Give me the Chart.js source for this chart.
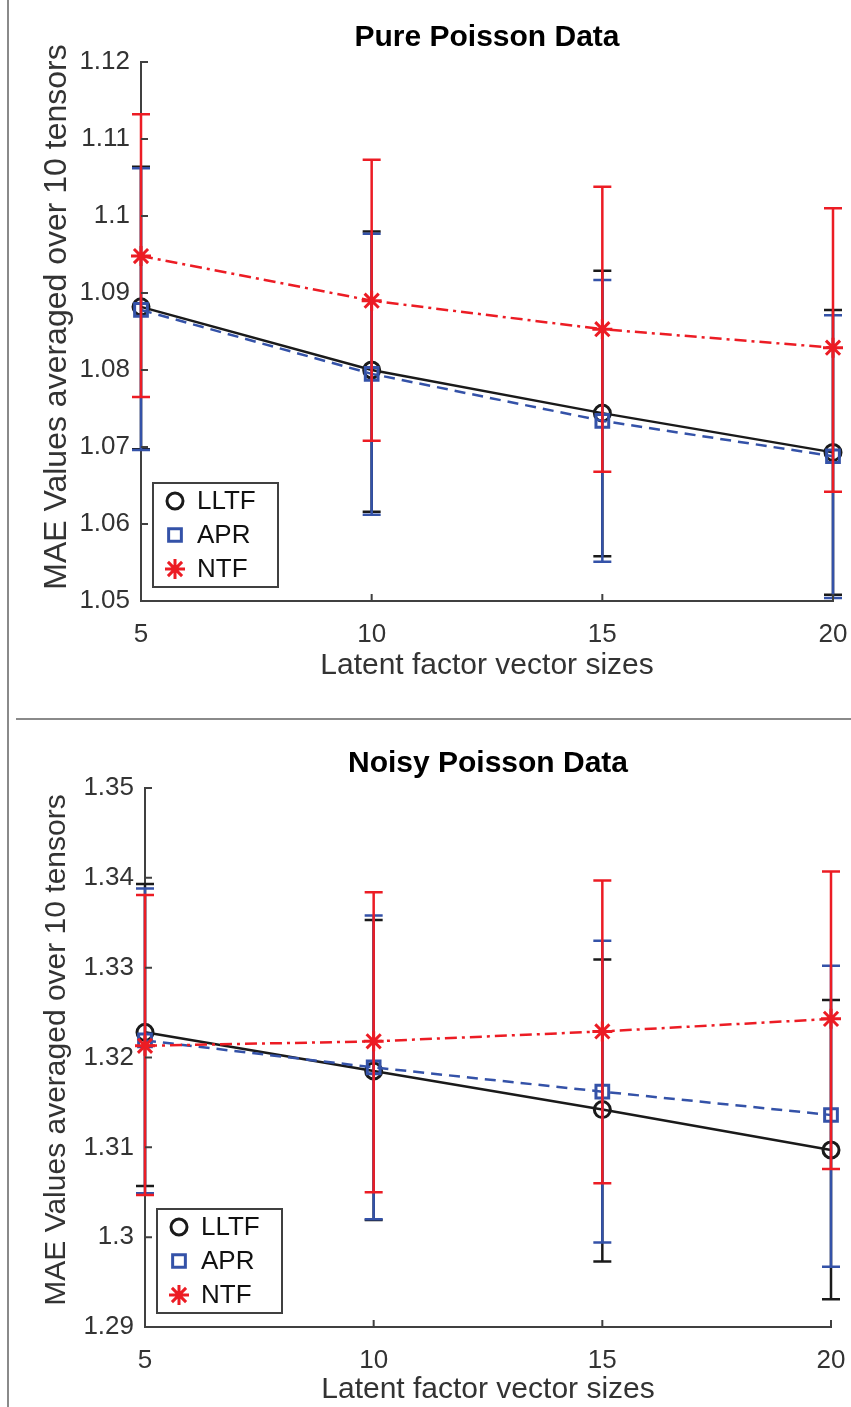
<!DOCTYPE html>
<html>
<head>
<meta charset="utf-8">
<script src="https://cdn.jsdelivr.net/npm/chart.js@4.4.1/dist/chart.umd.min.js"></script>
<style>
  body { margin: 0; background: #fff; width: 851px; height: 1407px; position: relative; overflow: hidden; }
  .panel { position: absolute; left: 0; width: 851px; }
  #pure { top: 0; height: 710px; }
  #noisy { top: 720px; height: 700px; }
  .vline { position: absolute; left: 7px; top: 0; width: 2px; height: 1407px; background: #8a8a8a; }
  .hline { position: absolute; left: 16px; top: 718px; width: 835px; height: 2px; background: #8a8a8a; }
</style>
</head>
<body>
<div class="vline"></div>
<div class="hline"></div>
<div class="panel" id="pure"><canvas id="pureChart"></canvas></div>
<div class="panel" id="noisy"><canvas id="noisyChart"></canvas></div>
<script>
const latentSizes = [5, 10, 15, 20];
const seriesNames = ['LLTF', 'APR', 'NTF'];

// Pure Poisson Data
const pureLLTF     = [1.0882, 1.0800, 1.0744, 1.0693];
const pureLLTFLow  = [1.0697, 1.0616, 1.0558, 1.0508];
const pureLLTFHigh = [1.1064, 1.0980, 1.0929, 1.0878];
const pureAPR      = [1.0878, 1.0795, 1.0734, 1.0688];
const pureAPRLow   = [1.0696, 1.0612, 1.0551, 1.0504];
const pureAPRHigh  = [1.1062, 1.0977, 1.0917, 1.0871];
const pureNTF      = [1.0948, 1.0890, 1.0853, 1.0829];
const pureNTFLow   = [1.0765, 1.0708, 1.0668, 1.0642];
const pureNTFHigh  = [1.1132, 1.1073, 1.1038, 1.1010];
const pureYRange   = [1.05, 1.12];

// Noisy Poisson Data
const noisyLLTF     = [1.3228, 1.3185, 1.3142, 1.3097];
const noisyLLTFLow  = [1.3057, 1.3019, 1.2973, 1.2931];
const noisyLLTFHigh = [1.3393, 1.3353, 1.3309, 1.3264];
const noisyAPR      = [1.3219, 1.3189, 1.3162, 1.3136];
const noisyAPRLow   = [1.3049, 1.3020, 1.2994, 1.2967];
const noisyAPRHigh  = [1.3388, 1.3358, 1.3330, 1.3302];
const noisyNTF      = [1.3213, 1.3218, 1.3229, 1.3243];
const noisyNTFLow   = [1.3047, 1.3050, 1.3060, 1.3076];
const noisyNTFHigh  = [1.3381, 1.3384, 1.3397, 1.3407];
const noisyYRange   = [1.29, 1.35];

const FONT = '"Liberation Sans", Arial, sans-serif';
const BLACK = '#1a1a1a';
const BLUE = '#3452a8';
const RED = '#ec1c24';
const AXIS = '#404040';

const styles = [
  { color: BLACK, pointStyle: 'circle', radius: 8, dash: [] },
  { color: BLUE, pointStyle: 'rect', radius: 9, dash: [11, 7] },
  { color: RED, pointStyle: 'star', radius: 10, dash: [12, 5, 3, 5] }
];

const toPoints = vals => latentSizes.map((x, i) => ({ x: x, y: vals[i] }));

// error bars drawn right after each dataset so NTF ends up on top
const errorBars = {
  id: 'errorBars',
  afterDatasetDraw(chart, args) {
    const ds = chart.data.datasets[args.index];
    const { ctx, scales: { x, y } } = chart;
    ctx.save();
    ctx.strokeStyle = ds.borderColor;
    ctx.lineWidth = 2.5;
    ctx.setLineDash([]);
    ds.data.forEach((p, i) => {
      const px = x.getPixelForValue(p.x);
      const lo = y.getPixelForValue(ds.low[i]);
      const hi = y.getPixelForValue(ds.high[i]);
      ctx.beginPath();
      ctx.moveTo(px, lo); ctx.lineTo(px, hi);
      ctx.moveTo(px - 9, lo); ctx.lineTo(px + 9, lo);
      ctx.moveTo(px - 9, hi); ctx.lineTo(px + 9, hi);
      ctx.stroke();
    });
    ctx.restore();
  }
};

// matlab style: titles, inward ticks, boxed legend
const matlabBits = {
  id: 'matlabBits',
  afterDraw(chart, args, opts) {
    const { ctx, chartArea, scales: { x, y } } = chart;
    ctx.save();

    ctx.strokeStyle = AXIS;
    ctx.lineWidth = 2;
    ctx.beginPath();
    y.ticks.forEach(t => {
      const py = y.getPixelForValue(t.value);
      ctx.moveTo(chartArea.left, py); ctx.lineTo(chartArea.left + 7, py);
    });
    x.ticks.forEach(t => {
      const px = x.getPixelForValue(t.value);
      ctx.moveTo(px, chartArea.bottom); ctx.lineTo(px, chartArea.bottom - 7);
    });
    ctx.stroke();

    ctx.fillStyle = '#000';
    ctx.font = 'bold 30px ' + FONT;
    ctx.textAlign = 'center';
    ctx.textBaseline = 'middle';
    ctx.fillText(opts.text, (chartArea.left + chartArea.right) / 2, opts.titleY);

    ctx.save();
    ctx.translate(57, opts.yTitleY);
    ctx.rotate(-Math.PI / 2);
    ctx.fillStyle = '#333';
    ctx.font = opts.yTitleSize + 'px ' + FONT;
    ctx.fillText('MAE Values averaged over 10 tensors', 0, 0);
    ctx.restore();

    const w = 125, h = 104, rowH = 34;
    const left = chartArea.left + 12, top = chartArea.bottom - 14 - h;
    ctx.fillStyle = '#fff';
    ctx.fillRect(left, top, w, h);
    ctx.strokeStyle = AXIS;
    ctx.lineWidth = 2;
    ctx.strokeRect(left, top, w, h);
    chart.data.datasets.forEach((ds, i) => {
      const cy = top + 18 + i * rowH;
      ctx.strokeStyle = ds.borderColor;
      ctx.fillStyle = 'rgba(0,0,0,0)';
      ctx.lineWidth = 3;
      ctx.setLineDash([]);
      Chart.helpers.drawPoint(ctx, { pointStyle: ds.pointStyle, radius: ds.pointRadius, borderWidth: 3, rotation: 0 }, left + 22, cy);
      ctx.fillStyle = '#111';
      ctx.font = '26px ' + FONT;
      ctx.textAlign = 'left';
      ctx.textBaseline = 'middle';
      ctx.fillText(ds.label, left + 44, cy + 1);
    });
    ctx.restore();
  }
};

function makeChart(id, cfg) {
  const series = [
    [cfg.lltf, cfg.lltfLow, cfg.lltfHigh],
    [cfg.apr, cfg.aprLow, cfg.aprHigh],
    [cfg.ntf, cfg.ntfLow, cfg.ntfHigh]
  ];
  const datasets = series.map((s, i) => ({
    label: seriesNames[i],
    data: toPoints(s[0]),
    low: s[1],
    high: s[2],
    borderColor: styles[i].color,
    backgroundColor: 'rgba(0,0,0,0)',
    borderWidth: 2.5,
    borderDash: styles[i].dash,
    pointStyle: styles[i].pointStyle,
    pointRadius: styles[i].radius,
    pointBorderWidth: 3,
    pointBorderColor: styles[i].color,
    pointBackgroundColor: 'rgba(0,0,0,0)',
    tension: 0,
    clip: false,
    order: 3 - i
  }));

  return new Chart(document.getElementById(id), {
    type: 'line',
    data: { datasets: datasets },
    plugins: [errorBars, matlabBits],
    options: {
      responsive: true,
      maintainAspectRatio: false,
      animation: false,
      layout: { padding: { top: cfg.padTop, right: cfg.padRight, left: 0, bottom: 0 } },
      plugins: {
        legend: { display: false },
        tooltip: { enabled: false },
        matlabBits: { text: cfg.title, titleY: cfg.titleY, yTitleY: cfg.yTitleY, yTitleSize: cfg.yTitleSize }
      },
      scales: {
        x: {
          type: 'linear',
          min: 5,
          max: 20,
          afterBuildTicks: s => { s.ticks = latentSizes.map(v => ({ value: v })); },
          afterFit: s => { s.height = cfg.xHeight; s.paddingLeft = 0; s.paddingRight = 0; },
          grid: { display: true, drawOnChartArea: false, drawTicks: false },
          border: { display: true, color: AXIS, width: 2 },
          ticks: { color: '#333', padding: 18, font: { family: FONT, size: 26 } },
          title: { display: true, text: 'Latent factor vector sizes', color: '#333', padding: { top: 0, bottom: cfg.xTitlePad }, font: { family: FONT, size: 30 } }
        },
        y: {
          min: cfg.yRange[0],
          max: cfg.yRange[1],
          afterFit: s => { s.width = cfg.yWidth; },
          grid: { display: true, drawOnChartArea: false, drawTicks: false },
          border: { display: true, color: AXIS, width: 2 },
          ticks: {
            stepSize: 0.01,
            color: '#333',
            padding: 11,
            font: { family: FONT, size: 26 },
            callback: v => String(parseFloat(v.toFixed(2)))
          },
          title: { display: false }
        }
      }
    }
  });
}

makeChart('pureChart', {
  title: 'Pure Poisson Data', titleY: 38,
  lltf: pureLLTF, lltfLow: pureLLTFLow, lltfHigh: pureLLTFHigh,
  apr: pureAPR, aprLow: pureAPRLow, aprHigh: pureAPRHigh,
  ntf: pureNTF, ntfLow: pureNTFLow, ntfHigh: pureNTFHigh,
  yRange: pureYRange, yTitleY: 317, yTitleSize: 32,
  padTop: 62, padRight: 18, yWidth: 141, xHeight: 109, xTitlePad: 26
});

makeChart('noisyChart', {
  title: 'Noisy Poisson Data', titleY: 44,
  lltf: noisyLLTF, lltfLow: noisyLLTFLow, lltfHigh: noisyLLTFHigh,
  apr: noisyAPR, aprLow: noisyAPRLow, aprHigh: noisyAPRHigh,
  ntf: noisyNTF, ntfLow: noisyNTFLow, ntfHigh: noisyNTFHigh,
  yRange: noisyYRange, yTitleY: 330, yTitleSize: 30,
  padTop: 68, padRight: 20, yWidth: 145, xHeight: 93, xTitlePad: 12
});
</script>
</body>
</html>
